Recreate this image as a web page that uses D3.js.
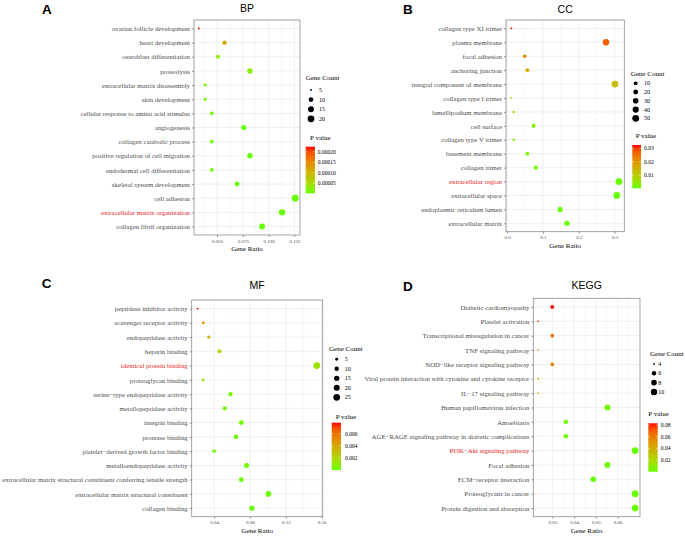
<!DOCTYPE html>
<html>
<head>
<meta charset="utf-8">
<script src="https://cdn.jsdelivr.net/npm/d3@7"></script>
<style>
  body { margin: 0; background: #fff; }
  svg { display: block; }
</style>
</head>
<body>
<svg id="chart" width="685" height="537"></svg>
<script>
// --- datos ---
const bpTerms = ["ovarian follicle development", "heart development", "osteoblast differentiation", "proteolysis",
  "extracellular matrix disassembly", "skin development", "cellular response to amino acid stimulus", "angiogenesis",
  "collagen catabolic process", "positive regulation of cell migration", "endodermal cell differentiation",
  "skeletal system development", "cell adhesion", "extracellular matrix organization", "collagen fibril organization"];
const bpRatio = [0.0324, 0.0573, 0.0510, 0.0819, 0.0385, 0.0385, 0.0449, 0.0759, 0.0449, 0.0819, 0.0449, 0.0694, 0.1257, 0.1130, 0.0937];
const bpCount = [5, 9, 8, 13, 6, 6, 7, 12, 7, 13, 7, 11, 20, 18, 15];
const bpP = [0.000224, 0.00012, 0.00003, 0.000025, 0.000008, 0.000006, 0.000005, 0.000004, 0.000004, 0.000003, 0.000003, 0.000003, 0.000002, 0.000002, 0.000002];
const bpTicks = [0.05, 0.075, 0.1, 0.125];
const bpSizeBreaks = [5, 10, 15, 20];
const bpPBreaks = [0.00005, 0.0001, 0.00015, 0.0002];

const ccTerms = ["collagen type XI trimer", "plasma membrane", "focal adhesion", "anchoring junction",
  "integral component of membrane", "collagen type I trimer", "lamellipodium membrane", "cell surface",
  "collagen type V trimer", "basement membrane", "collagen trimer", "extracellular region",
  "extracellular space", "endoplasmic reticulum lumen", "extracellular matrix"];
const ccRatio = [0.012, 0.276, 0.049, 0.0564, 0.301, 0.012, 0.0185, 0.074, 0.0185, 0.0564, 0.080, 0.312, 0.306, 0.148, 0.167];
const ccCount = [2, 44, 8, 9, 48, 2, 3, 12, 3, 9, 13, 50, 49, 24, 27];
const ccP = [0.0326, 0.027, 0.022, 0.016, 0.013, 0.009, 0.007, 0.003, 0.0015, 0.001, 0.0008, 0.0002, 0.0001, 0.0003, 0.00005];
const ccTicks = [0, 0.1, 0.2, 0.3];
const ccSizeBreaks = [10, 20, 30, 40, 50];
const ccPBreaks = [0.01, 0.02, 0.03];

const mfTerms = ["peptidase inhibitor activity", "scavenger receptor activity", "endopeptidase activity", "heparin binding",
  "identical protein binding", "proteoglycan binding", "serine\u2212type endopeptidase activity", "metallopeptidase activity",
  "integrin binding", "protease binding", "platelet\u2212derived growth factor binding", "metalloendopeptidase activity",
  "extracellular matrix structural constituent conferring tensile strength", "extracellular matrix structural constituent",
  "collagen binding"];
const mfRatio = [0.0216, 0.0278, 0.0341, 0.046, 0.1545, 0.0278, 0.0582, 0.0519, 0.0703, 0.0644, 0.040, 0.0762, 0.0703, 0.1006, 0.0821];
const mfCount = [4, 5, 6, 8, 26, 5, 10, 9, 12, 11, 7, 13, 12, 17, 14];
const mfP = [0.0078, 0.0052, 0.0036, 0.0022, 0.0014, 0.001, 0.0004, 0.0003, 0.0002, 0.0002, 0.0002, 0.0001, 0.0001, 0.00005, 0.00002];
const mfTicks = [0.04, 0.08, 0.12, 0.16];
const mfSizeBreaks = [5, 10, 15, 20, 25];
const mfPBreaks = [0.002, 0.004, 0.006];

const keggTerms = ["Diabetic cardiomyopathy", "Platelet activation", "Transcriptional misregulation in cancer",
  "TNF signaling pathway", "NOD\u2212like receptor signaling pathway",
  "Viral protein interaction with cytokine and cytokine receptor", "IL\u221217 signaling pathway",
  "Human papillomavirus infection", "Amoebiasis", "AGE\u2212RAGE signaling pathway in diabetic complications",
  "PI3K\u2212Akt signaling pathway", "Focal adhesion", "ECM\u2212receptor interaction", "Proteoglycans in cancer",
  "Protein digestion and absorption"];
const keggRatio = [0.030, 0.0235, 0.030, 0.0235, 0.030, 0.0235, 0.0235, 0.0553, 0.0362, 0.0362, 0.068, 0.0553, 0.0488, 0.068, 0.068];
const keggCount = [5, 4, 5, 4, 5, 4, 4, 9, 6, 6, 11, 9, 8, 11, 11];
const keggP = [0.083, 0.076, 0.066, 0.060, 0.058, 0.047, 0.040, 0.002, 0.002, 0.0015, 0.001, 0.0008, 0.0005, 0.0003, 0.0001];
const keggTicks = [0.03, 0.04, 0.05, 0.06];
const keggSizeBreaks = [4, 6, 8, 10];
const keggPBreaks = [0.02, 0.04, 0.06, 0.08];

// --- estilo ---
const lowColor = "#66ff00";
const highColor = "#ff0000";
const serif = "'Liberation Serif', 'Times New Roman', serif";
const sans = "'Liberation Sans', Arial, sans-serif";
const textGrey = "#4d4d4d";
const hiliteRed = "#e41a1c";

// configuracion de cada panel (posiciones medidas en la figura)
const panels = [
  { letter: "A", letterX: 42, letterY: 14, title: "BP", titleY: 12,
    terms: bpTerms, ratio: bpRatio, count: bpCount, p: bpP, ticks: bpTicks, fmt: ".3f",
    sizeBreaks: bpSizeBreaks, pBreaks: bpPBreaks, pFmt: ".5f", highlight: "extracellular matrix organization",
    box: { left: 194, right: 300, top: 20, bottom: 235 },
    leg: { gcX: 305.7, gcY: 78, itemY: 90, step: 9.6, dotX: 311, labX: 319,
           pX: 310, pY: 138, barX: 305.7, barW: 9.3, barTop: 146.7, barBottom: 193.3, barLabX: 317.7 } },
  { letter: "B", letterX: 403, letterY: 14, title: "CC", titleY: 12.5,
    terms: ccTerms, ratio: ccRatio, count: ccCount, p: ccP, ticks: ccTicks, fmt: ".1f",
    sizeBreaks: ccSizeBreaks, pBreaks: ccPBreaks, pFmt: ".2f", highlight: "extracellular region",
    box: { left: 506, right: 624.3, top: 20, bottom: 231.7 },
    leg: { gcX: 630.7, gcY: 74, itemY: 83.3, step: 8.75, dotX: 635.7, labX: 644,
           pX: 635.7, pY: 135.7, barX: 632.3, barW: 8.7, barTop: 145, barBottom: 188.3, barLabX: 644 } },
  { letter: "C", letterX: 41.7, letterY: 287.5, title: "MF", titleY: 289,
    terms: mfTerms, ratio: mfRatio, count: mfCount, p: mfP, ticks: mfTicks, fmt: ".2f",
    sizeBreaks: mfSizeBreaks, pBreaks: mfPBreaks, pFmt: ".3f", highlight: "identical protein binding",
    box: { left: 191.7, right: 322.7, top: 300, bottom: 516.7 },
    leg: { gcX: 329, gcY: 349, itemY: 359.3, step: 9.5, dotX: 336.7, labX: 344.7,
           pX: 335.7, pY: 416.7, barX: 331.7, barW: 9.3, barTop: 422.7, barBottom: 470, barLabX: 345 } },
  { letter: "D", letterX: 403, letterY: 290.5, title: "KEGG", titleY: 289,
    terms: keggTerms, ratio: keggRatio, count: keggCount, p: keggP, ticks: keggTicks, fmt: ".2f",
    sizeBreaks: keggSizeBreaks, pBreaks: keggPBreaks, pFmt: ".2f", highlight: "PI3K\u2212Akt signaling pathway",
    box: { left: 533.3, right: 640, top: 298.3, bottom: 516.7 },
    leg: { gcX: 650, gcY: 353.3, itemY: 364, step: 9.33, dotX: 654, labX: 658.3,
           pX: 648.3, pY: 414, barX: 648.3, barW: 9.4, barTop: 423.3, barBottom: 471.7, barLabX: 660.7 } }
];

const svg = d3.select("#chart");

function drawPanel(cfg, idx) {
  const b = cfg.box;
  const g = svg.append("g");

  // escala X con expansion del 5% como ggplot
  const ext = d3.extent(cfg.ratio);
  const pad = (ext[1] - ext[0]) * 0.05;
  const x = d3.scaleLinear().domain([ext[0] - pad, ext[1] + pad]).range([b.left, b.right]);
  const y = d3.scalePoint().domain(cfg.terms).range([b.top, b.bottom]).padding(0.6);

  // tamano: area proporcional, como scale_size
  const cExt = d3.extent(cfg.count);
  const radius = c => 0.9 + 2.5 * Math.sqrt((c - cExt[0]) / (cExt[1] - cExt[0]));

  const pExt = d3.extent(cfg.p);
  const color = d3.scaleLinear().domain(pExt).range([lowColor, highColor]).interpolate(d3.interpolateLab);

  // fondo y rejilla
  g.append("rect").attr("x", b.left).attr("y", b.top)
    .attr("width", b.right - b.left).attr("height", b.bottom - b.top).attr("fill", "#fff");

  const step = cfg.ticks[1] - cfg.ticks[0];
  const minor = [];
  for (let t = cfg.ticks[0] - step / 2; t <= x.domain()[1]; t += step) {
    if (t >= x.domain()[0]) minor.push(t);
  }
  g.selectAll(".minor").data(minor).enter().append("line")
    .attr("x1", d => x(d)).attr("x2", d => x(d)).attr("y1", b.top).attr("y2", b.bottom)
    .attr("stroke", "#f3f3f3").attr("stroke-width", 0.5);
  g.selectAll(".vmajor").data(cfg.ticks).enter().append("line")
    .attr("x1", d => x(d)).attr("x2", d => x(d)).attr("y1", b.top).attr("y2", b.bottom)
    .attr("stroke", "#ebebeb").attr("stroke-width", 0.8);
  g.selectAll(".hmajor").data(cfg.terms).enter().append("line")
    .attr("x1", b.left).attr("x2", b.right).attr("y1", d => y(d)).attr("y2", d => y(d))
    .attr("stroke", "#ebebeb").attr("stroke-width", 0.8);

  // puntos
  const rows = cfg.terms.map((t, i) => ({ term: t, ratio: cfg.ratio[i], count: cfg.count[i], p: cfg.p[i] }));
  g.selectAll(".dot").data(rows).enter().append("circle")
    .attr("cx", d => x(d.ratio)).attr("cy", d => y(d.term))
    .attr("r", d => radius(d.count)).attr("fill", d => color(d.p));

  // borde del panel
  g.append("rect").attr("x", b.left).attr("y", b.top)
    .attr("width", b.right - b.left).attr("height", b.bottom - b.top)
    .attr("fill", "none").attr("stroke", "#8c8c8c").attr("stroke-width", 0.8);

  // ejes
  const yAxis = g.append("g").attr("transform", `translate(${b.left},0)`)
    .call(d3.axisLeft(y).tickSize(2).tickPadding(2));
  yAxis.select(".domain").remove();
  yAxis.selectAll("line").attr("stroke", "#555").attr("stroke-width", 0.6);
  yAxis.selectAll("text").attr("font-family", serif).attr("font-size", 6.8)
    .attr("fill", d => d === cfg.highlight ? hiliteRed : textGrey);

  const xAxis = g.append("g").attr("transform", `translate(0,${b.bottom})`)
    .call(d3.axisBottom(x).tickValues(cfg.ticks).tickFormat(d3.format(cfg.fmt)).tickSize(2).tickPadding(2));
  xAxis.select(".domain").remove();
  xAxis.selectAll("line").attr("stroke", "#555").attr("stroke-width", 0.6);
  xAxis.selectAll("text").attr("font-family", serif).attr("font-size", 5).attr("fill", textGrey);

  g.append("text").attr("x", (b.left + b.right) / 2).attr("y", b.bottom + 16)
    .attr("text-anchor", "middle").attr("font-family", serif).attr("font-size", 7).attr("fill", "#000")
    .text("Gene Ratio");

  // titulos
  g.append("text").attr("x", (b.left + b.right) / 2).attr("y", cfg.titleY)
    .attr("text-anchor", "middle").attr("font-family", sans).attr("font-size", 10.5).attr("fill", "#000")
    .text(cfg.title);
  g.append("text").attr("x", cfg.letterX).attr("y", cfg.letterY)
    .attr("font-family", sans).attr("font-weight", "bold").attr("font-size", 13.5).attr("fill", "#000")
    .text(cfg.letter);

  // leyenda de tamano
  const L = cfg.leg;
  g.append("text").attr("x", L.gcX).attr("y", L.gcY).attr("dy", "0.35em")
    .attr("font-family", serif).attr("font-size", 7).attr("fill", "#000").text("Gene Count");
  const items = g.selectAll(".sizeItem").data(cfg.sizeBreaks).enter().append("g")
    .attr("transform", (d, i) => `translate(0,${L.itemY + i * L.step})`);
  items.append("circle").attr("cx", L.dotX).attr("cy", 0).attr("r", d => radius(d)).attr("fill", "#000");
  items.append("text").attr("x", L.labX).attr("y", 0).attr("dy", "0.35em")
    .attr("font-family", serif).attr("font-size", 6).attr("fill", "#000").text(d => d);

  // leyenda de color
  g.append("text").attr("x", L.pX).attr("y", L.pY).attr("dy", "0.35em")
    .attr("font-family", serif).attr("font-size", 7).attr("fill", "#000").text("P value");
  const gradId = "grad" + idx;
  const grad = svg.append("defs").append("linearGradient").attr("id", gradId)
    .attr("x1", 0).attr("y1", 1).attr("x2", 0).attr("y2", 0);
  d3.range(0, 1.0001, 0.1).forEach(t => {
    grad.append("stop").attr("offset", t).attr("stop-color", color(pExt[0] + t * (pExt[1] - pExt[0])));
  });
  g.append("rect").attr("x", L.barX).attr("y", L.barTop).attr("width", L.barW)
    .attr("height", L.barBottom - L.barTop).attr("fill", `url(#${gradId})`);
  const barY = d3.scaleLinear().domain(pExt).range([L.barBottom, L.barTop]);
  const brk = g.selectAll(".pbrk").data(cfg.pBreaks).enter().append("g");
  brk.append("line").attr("x1", L.barX).attr("x2", L.barX + 1.8)
    .attr("y1", d => barY(d)).attr("y2", d => barY(d)).attr("stroke", "#fff").attr("stroke-width", 0.5);
  brk.append("line").attr("x1", L.barX + L.barW - 1.8).attr("x2", L.barX + L.barW)
    .attr("y1", d => barY(d)).attr("y2", d => barY(d)).attr("stroke", "#fff").attr("stroke-width", 0.5);
  brk.append("text").attr("x", L.barLabX).attr("y", d => barY(d)).attr("dy", "0.35em")
    .attr("font-family", serif).attr("font-size", 5.6).attr("fill", "#000")
    .text(d => d3.format(cfg.pFmt)(d));
}

panels.forEach(drawPanel);
</script>
</body>
</html>
